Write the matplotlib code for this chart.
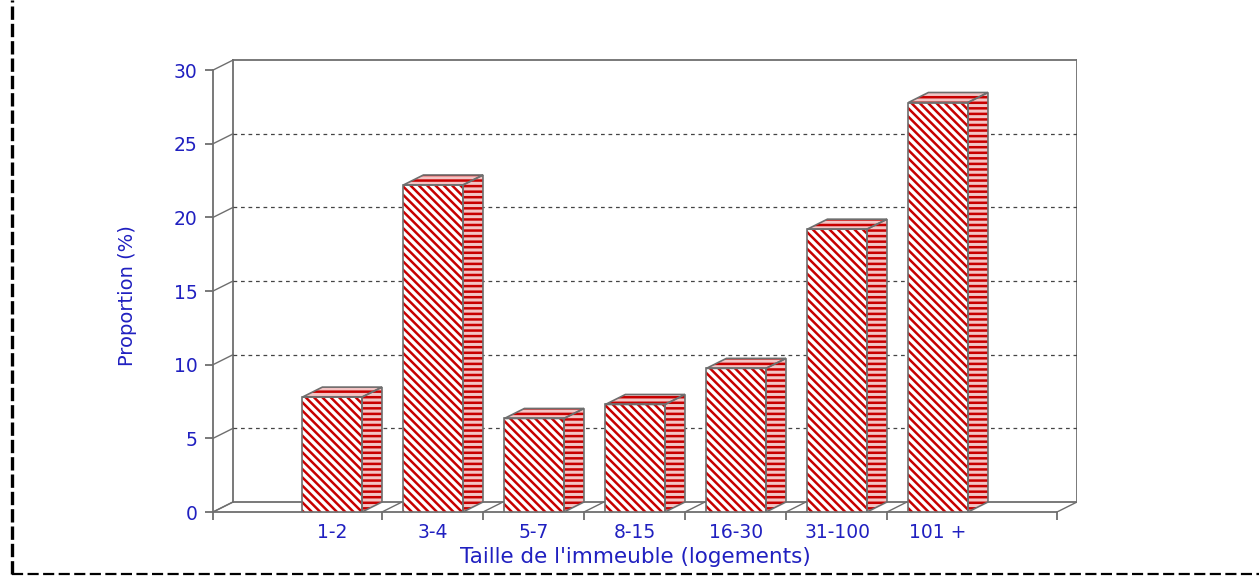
import matplotlib
matplotlib.use('Agg')
import matplotlib.pyplot as plt
from matplotlib.patches import Rectangle, Polygon
from matplotlib.lines import Line2D

# Proportion des logements selon la taille de l'immeuble
categories = ['1-2', '3-4', '5-7', '8-15', '16-30', '31-100', '101 +']
proportions = [7.8, 22.2, 6.35, 7.3, 9.75, 19.2, 27.8]
yticks = [0, 5, 10, 15, 20, 25, 30]

W, H = 1259, 577
PX_X = 101.0     # pixels per category slot
PX_Y = 14.73     # pixels per percentage point
DX = 20 / PX_X   # depth offset of the 3D box
DY = 10 / PX_Y

BLUE = '#2020c0'
GREY = '#6e6e6e'
RED = '#c80000'

plt.rcParams['font.family'] = ['DejaVu Sans']
plt.rcParams['hatch.linewidth'] = 1.8

fig = plt.figure(figsize=(W / 100, H / 100), dpi=100)
left, right, top, bottom = 213, 1077, 59, 512
ax = fig.add_axes([left / W, (H - bottom) / H, (right - left) / W, (bottom - top) / H])
x_end = (right - left) / PX_X
y_end = (bottom - top) / PX_Y
ax.set_xlim(0, x_end)
ax.set_ylim(0, y_end)
front_end = x_end - DX

for side in ('top', 'right'):
    ax.spines[side].set_visible(False)
ax.spines['left'].set_bounds(0, 30)
ax.spines['bottom'].set_bounds(0, front_end)
for side in ('left', 'bottom'):
    ax.spines[side].set_color(GREY)
    ax.spines[side].set_linewidth(1.3)

# back wall, floor and gridlines
wall = dict(color=GREY, lw=1.3, zorder=1)
ax.plot([DX, DX], [DY, 30 + DY], **wall)
ax.plot([x_end, x_end], [DY, 30 + DY], **wall)
ax.plot([DX, x_end], [DY, DY], **wall)
ax.plot([DX, x_end], [30 + DY, 30 + DY], **wall)
for v in yticks:
    ax.plot([0, DX], [v, v + DY], color=GREY, lw=1.0, zorder=1)
    if 0 < v < 30:
        ax.plot([DX, x_end], [v + DY, v + DY], color='#444444', lw=0.9,
                ls=(0, (3, 3)), zorder=1)

# category slot boundaries on the floor
centers = [1.18 + i for i in range(len(categories))]
bounds = [0] + [c + 0.295 + DX for c in centers[:-1]] + [front_end]
for b in bounds:
    ax.plot([b, b + DX], [0, DY], color=GREY, lw=1.0, zorder=1)

ax.set_yticks(yticks)
ax.tick_params(axis='y', direction='out', length=6, width=1.3, color=GREY,
               labelcolor=BLUE, labelsize=13.5, pad=5)
ax.set_xticks(bounds)
ax.set_xticklabels([])
ax.tick_params(axis='x', which='major', direction='out', length=6, width=1.3, color=GREY)
ax.set_xticks(centers, minor=True)
ax.set_xticklabels(categories, minor=True)
ax.tick_params(axis='x', which='minor', length=0, labelcolor=BLUE, labelsize=13.5, pad=8)

# 3D bars
bw = 0.59
for c, v in zip(centers, proportions):
    x0, x1 = c - bw / 2, c + bw / 2
    side = [(x1, 0), (x1 + DX, DY), (x1 + DX, v + DY), (x1, v)]
    roof = [(x0, v), (x0 + DX, v + DY), (x1 + DX, v + DY), (x1, v)]
    for pts in (side, roof):
        ax.add_patch(Polygon(pts, closed=True, facecolor='#f3c4c4', edgecolor=RED,
                             hatch='---', lw=0, zorder=3))
        ax.add_patch(Polygon(pts, closed=True, fill=False, edgecolor=GREY, lw=1.2, zorder=4))
    ax.add_patch(Rectangle((x0, 0), bw, v, facecolor='white', edgecolor=RED,
                           hatch='\\\\\\\\', lw=0, zorder=3))
    ax.add_patch(Rectangle((x0, 0), bw, v, fill=False, edgecolor=GREY, lw=1.2, zorder=4))

ax.set_xlabel("Taille de l'immeuble (logements)", color=BLUE, fontsize=15.5, va='center')
ax.xaxis.set_label_coords((635 - left) / (right - left), -(557 - bottom) / (bottom - top))
ax.set_ylabel('Proportion (%)', color=BLUE, fontsize=14, va='center')
ax.yaxis.set_label_coords((128 - left) / (right - left), (bottom - 296) / (bottom - top))

# dashed frame on the left and bottom
fig.add_artist(Line2D([12 / W, 12 / W], [3 / H, 1], color='black', lw=2.4,
                      ls=(0, (4, 1.2)), transform=fig.transFigure))
fig.add_artist(Line2D([12 / W, 1], [3 / H, 3 / H], color='black', lw=1.6,
                      ls=(0, (5, 2)), transform=fig.transFigure))

fig.savefig('out.png', dpi=100)
